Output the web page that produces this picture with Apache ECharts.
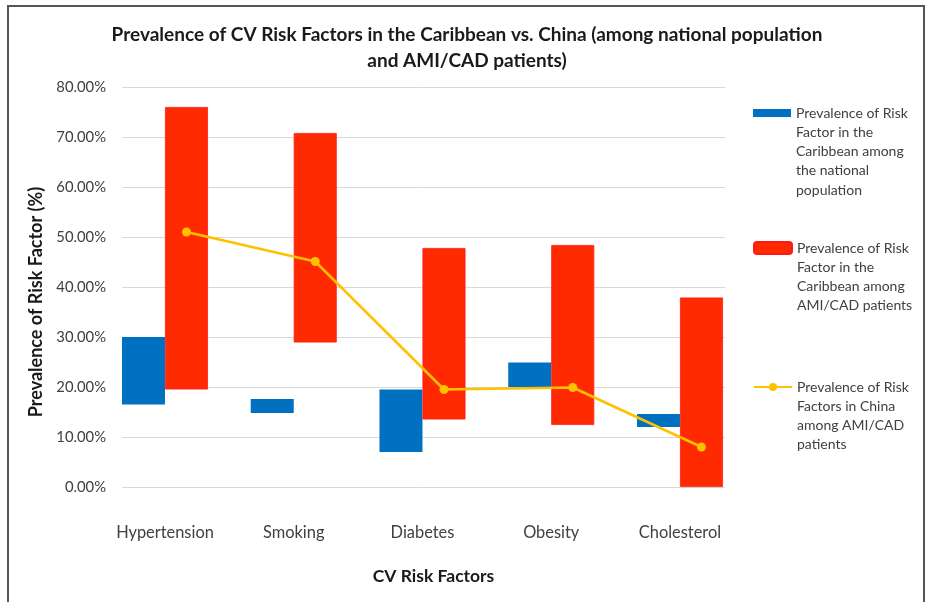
<!DOCTYPE html>
<html>
<head>
<meta charset="utf-8">
<script src="https://cdn.jsdelivr.net/npm/echarts@6/dist/echarts.min.js"></script>
<style>
html,body{margin:0;padding:0;background:#fff;}
#frame{position:absolute;left:7px;top:5px;width:918px;height:620px;border:2px solid #555;box-sizing:border-box;}
#chart{position:absolute;left:0;top:0;width:928px;height:602px;}
</style>
</head>
<body>
<div id="frame"></div>
<div id="chart"></div>
<script>
var categories = ['Hypertension', 'Smoking', 'Diabetes', 'Obesity', 'Cholesterol'];
var blueLow  = [16.5, 14.8, 7.0, 20.0, 12.0];
var blueHigh = [30.0, 17.6, 19.5, 24.9, 14.6];
var redLow   = [19.5, 28.9, 13.5, 12.4, 0.0];
var redHigh  = [76.0, 70.8, 47.8, 48.4, 37.9];
var china    = [51.0, 45.1, 19.5, 19.9, 8.0];
var yTicks   = [0, 10, 20, 30, 40, 50, 60, 70, 80];

var nameBlue = 'Prevalence of Risk Factor in the Caribbean among the national population';
var nameRed  = 'Prevalence of Risk Factor in the Caribbean among AMI/CAD patients';
var nameGold = 'Prevalence of Risk Factors in China among AMI/CAD patients';
var wrapMap = {};
wrapMap[nameBlue] = ['Prevalence of Risk', 'Factor in the', 'Caribbean among', 'the national', 'population'];
wrapMap[nameRed]  = ['Prevalence of Risk', 'Factor in the', 'Caribbean among', 'AMI/CAD patients'];
wrapMap[nameGold] = ['Prevalence of Risk', 'Factors in China', 'among AMI/CAD', 'patients'];

var FONT = 'Lato';
var LH = 19.3;
var blueSpan = blueHigh.map(function (v, i) { return +(v - blueLow[i]).toFixed(2); });
var redSpan  = redHigh.map(function (v, i) { return +(v - redLow[i]).toFixed(2); });

function legendFor(name, iconMid, icon, w, h) {
  var n = wrapMap[name].length;
  return {
    data: [{ name: name, icon: icon }],
    left: 753,
    top: iconMid - (n - 0.5) * LH,
    orient: 'vertical',
    padding: 0,
    itemWidth: w,
    itemHeight: h,
    selectedMode: false,
    formatter: function (nm) {
      var lines = wrapMap[nm];
      var pre = [];
      for (var k = 0; k < lines.length - 1; k++) pre.push(' ');
      return pre.concat(lines).join('\n');
    },
    textStyle: {
      fontFamily: FONT, fontSize: 14, color: '#404040', lineHeight: LH
    }
  };
}

var chart = echarts.init(document.getElementById('chart'));
var yMin = yTicks[0], yMax = yTicks[yTicks.length - 1];
var option = {
  animation: false,
  backgroundColor: 'transparent',
  textStyle: { fontFamily: FONT },
  title: {
    text: 'Prevalence of CV Risk Factors in the Caribbean vs. China (among national population\nand AMI/CAD patients)',
    left: 462, top: 17, textAlign: 'center',
    textStyle: { fontFamily: FONT, fontSize: 19, fontWeight: 'bold', color: '#1a1a1a', lineHeight: 26 }
  },
  legend: [
    legendFor(nameBlue, 113, 'rect', 38, 8),
    legendFor(nameRed, 248, 'roundRect', 38, 12),
    legendFor(nameGold, 387, undefined, 38, 10)
  ],
  grid: [
    { left: 122, top: 87, width: 603, height: 400 },
    { left: 100.6, top: 87, width: 643.75, height: 400 },
    { left: 122.1, top: 87, width: 643.75, height: 400 }
  ],
  xAxis: [
    {
      gridIndex: 0, type: 'category', data: categories,
      axisLine: { show: false }, axisTick: { show: false }, axisLabel: { show: false },
      name: 'CV Risk Factors', nameLocation: 'middle', nameGap: 80,
      nameTextStyle: { fontFamily: FONT, fontSize: 17.5, fontWeight: 'bold', color: '#1a1a1a', padding: [0, 0, 0, 20] }
    },
    {
      gridIndex: 1, type: 'category', data: categories,
      axisLine: { show: false }, axisTick: { show: false },
      axisLabel: { margin: 38, fontFamily: FONT, fontSize: 16.4, color: '#404040' }
    },
    {
      gridIndex: 2, type: 'category', data: categories, show: false
    }
  ],
  yAxis: [
    {
      gridIndex: 0, type: 'value', min: yMin, max: yMax, interval: 10,
      axisLine: { show: false }, axisTick: { show: false },
      splitLine: { lineStyle: { color: '#D9D9D9', width: 1 } },
      axisLabel: { margin: 16, fontFamily: FONT, fontSize: 14.8, color: '#404040',
        formatter: function (v) { return v.toFixed(2) + '%'; } },
      name: 'Prevalence of Risk Factor (%)', nameLocation: 'middle', nameGap: 76, nameRotate: 90,
      nameTextStyle: { fontFamily: FONT, fontSize: 18, fontWeight: 'bold', color: '#1a1a1a', padding: [0, 30, 0, 0] }
    },
    { gridIndex: 1, type: 'value', min: yMin, max: yMax, show: false, splitLine: { show: false } },
    { gridIndex: 2, type: 'value', min: yMin, max: yMax, show: false, splitLine: { show: false } }
  ],
  series: [
    {
      name: 'blueBase', type: 'bar', stack: 'blue', xAxisIndex: 1, yAxisIndex: 1,
      data: blueLow, barWidth: 43, barGap: '0%',
      itemStyle: { color: 'rgba(0,0,0,0)' }, silent: true, emphasis: { disabled: true }
    },
    {
      name: nameBlue, type: 'bar', stack: 'blue', xAxisIndex: 1, yAxisIndex: 1,
      data: blueSpan, barWidth: 43, barGap: '0%',
      itemStyle: { color: '#0070C0' }
    },
    {
      name: 'redBase', type: 'bar', stack: 'red', xAxisIndex: 1, yAxisIndex: 1,
      data: redLow, barWidth: 43, barGap: '0%',
      itemStyle: { color: 'rgba(0,0,0,0)' }, silent: true, emphasis: { disabled: true }
    },
    {
      name: nameRed, type: 'bar', stack: 'red', xAxisIndex: 1, yAxisIndex: 1,
      data: redSpan, barWidth: 43, barGap: '0%',
      itemStyle: { color: '#FF2A00', borderColor: '#FF1A1A', borderWidth: 0.8 }
    },
    {
      name: nameGold, type: 'line', xAxisIndex: 2, yAxisIndex: 2,
      data: china, symbol: 'circle', symbolSize: 9,
      lineStyle: { color: '#FFC000', width: 2.5 },
      itemStyle: { color: '#FFC000' }
    }
  ]
};
chart.setOption(option);
</script>
</body>
</html>
